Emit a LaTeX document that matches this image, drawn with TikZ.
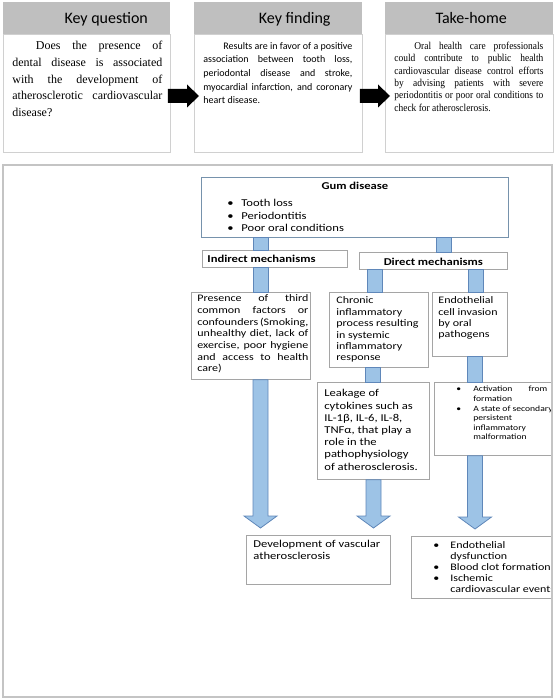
\documentclass[tikz,border=0pt]{standalone}
\usepackage{fontspec}
\setmainfont{Carlito}
\newfontfamily\calw{Carlito}[FakeStretch=1.2]
\newfontfamily\tnr{Liberation Serif}
\newfontfamily\tnrn{Liberation Serif}[FakeStretch=0.9]
\usepackage{tikz}
\usetikzlibrary{calc}
\definecolor{headgray}{RGB}{191,191,191}
\definecolor{panelgray}{RGB}{208,208,208}
\definecolor{boxgray}{RGB}{165,165,165}
\definecolor{gumline}{RGB}{118,146,172}
\definecolor{barblue}{RGB}{157,195,230}
\definecolor{barline}{RGB}{95,135,185}
\definecolor{framegray}{RGB}{196,196,196}
\newcommand{\jl}[1]{\makebox[\linewidth][s]{#1}\\}
\newcommand{\bul}{\makebox[17pt][l]{\textbullet}}
\newcommand{\boxtext}[6]{\parbox[t][#2][t]{#1}{\rule{0pt}{#3}\hspace*{#4}\parbox[t]{#5}{#6}}}

\begin{document}
\begin{tikzpicture}[x=1pt,y=-1pt,
    head/.style={fill=headgray,inner sep=0,anchor=north west,minimum width=168pt,
        text height=21pt,text depth=11pt,font=\fontsize{16}{19}\selectfont},
    pbody/.style={draw=panelgray,line width=0.8pt,fill=white,inner sep=0,anchor=north west},
    box/.style={draw=boxgray,line width=0.8pt,fill=white,inner sep=0,anchor=north west},
    bar/.style={fill=barblue,draw=barline,line width=0.8pt}]
\useasboundingbox (0,0) rectangle (556,700);

\node[head,minimum width=167pt] (qhead) at (3,2) {\hspace*{39pt}Key question};
\node[head] (fhead) at (194,2) {\hspace*{33pt}Key finding};
\node[head] (thead) at (385,2) {\hspace*{4pt}Take-home};

\node[pbody,font=\tnr\fontsize{12}{16.7}\selectfont] (qbody) at (3,34)
    {\boxtext{167pt}{118pt}{15.5pt}{9pt}{150pt}{%
    \jl{\hspace*{23.5pt}Does the presence of}
    \jl{dental disease is associated}
    \jl{with the development of}
    \jl{atherosclerotic cardiovascular}
    disease?}};
\node[pbody,font=\fontsize{10}{13.6}\selectfont] (fbody) at (194,34)
    {\boxtext{168pt}{118pt}{15pt}{9pt}{149pt}{%
    \jl{\hspace*{20pt}Results are in favor of a positive}
    \jl{association between tooth loss,}
    \jl{periodontal disease and stroke,}
    \jl{myocardial infarction, and coronary}
    heart disease.}};
\node[pbody,font=\tnrn\fontsize{10.5}{12.4}\selectfont] (tbody) at (385,34)
    {\boxtext{168pt}{118pt}{15pt}{9pt}{149pt}{%
    \jl{\hspace*{20pt}Oral health care professionals}
    \jl{could contribute to public health}
    \jl{cardiovascular disease control efforts}
    \jl{by advising patients with severe}
    \jl{periodontitis or poor oral conditions to}
    check for atherosclerosis.}};

\foreach \a/\b in {qbody/fbody, fbody/tbody}
    {\fill let \p1=(\a.east), \p2=(\b.west) in
        (\x1-3pt,\y1+4.4pt) -- (\x2-7pt,\y1+4.4pt) -- (\x2-7pt,\y1+8.9pt) -- (\x2+5pt,\y1-2.6pt)
        -- (\x2-7pt,\y1-14.1pt) -- (\x2-7pt,\y1-9.6pt) -- (\x1-3pt,\y1-9.6pt) -- cycle;}

\begin{scope}
\clip (0,160) rectangle (552,700);
\node[box,draw=gumline,font=\calw\fontsize{10.5}{12.8}\selectfont] (gum) at (201,177)
    {\boxtext{307pt}{60pt}{12pt}{0pt}{307pt}{%
    \makebox[\linewidth]{\bfseries Gum disease}\\[4.2pt]
    \hspace*{26pt}\makebox[14pt][l]{\textbullet}Tooth loss\\
    \hspace*{26pt}\makebox[14pt][l]{\textbullet}Periodontitis\\
    \hspace*{26pt}\makebox[14pt][l]{\textbullet}Poor oral conditions}};
\node[box,font=\calw\fontsize{10.5}{12.8}\selectfont] (ind) at (202,250)
    {\boxtext{145pt}{17pt}{12pt}{5pt}{135pt}{\bfseries Indirect mechanisms}};
\node[box,font=\calw\fontsize{10.5}{12.8}\selectfont] (dir) at (359,252)
    {\boxtext{148pt}{17pt}{12.7pt}{0pt}{148pt}{\centering\bfseries Direct mechanisms}};
\node[box,font=\calw\fontsize{10}{11.67}\selectfont] (pres) at (191,292)
    {\boxtext{119pt}{87pt}{9.5pt}{6pt}{111pt}{%
    \jl{Presence of third}
    \jl{common factors or}
    \jl{confounders (Smoking,}
    \jl{unhealthy diet, lack of}
    \jl{exercise, poor hygiene}
    \jl{and access to health}
    care)}};
\node[box,font=\calw\fontsize{10}{11.4}\selectfont] (chron) at (329,292)
    {\boxtext{99pt}{75pt}{11.5pt}{7pt}{90pt}{%
    Chronic\\ inflammatory\\ process resulting\\ in systemic\\ inflammatory\\ response}};
\node[box,font=\calw\fontsize{10}{11.3}\selectfont] (endo) at (432,292)
    {\boxtext{75pt}{64pt}{11.5pt}{6pt}{68pt}{%
    Endothelial\\ cell invasion\\ by oral\\ pathogens}};
\node[box,font=\calw\fontsize{10.5}{12.2}\selectfont] (leak) at (317,382)
    {\boxtext{112pt}{97pt}{14.5pt}{7pt}{103pt}{%
    Leakage of\\ cytokines such as\\ IL-1β, IL-6, IL-8,\\ TNFα, that play a\\
    role in the\\ pathophysiology\\ of atherosclerosis.}};
\node[box,font=\calw\fontsize{8}{9.6}\selectfont] (activ) at (434,382)
    {\boxtext{130pt}{73pt}{9.5pt}{22pt}{108pt}{%
    \bul\makebox[74pt][s]{Activation from}\\
    \hspace*{17pt}formation\\
    \bul A state of secondary\\
    \hspace*{17pt}persistent\\
    \hspace*{17pt}inflammatory\\
    \hspace*{17pt}malformation}};
\node[box,font=\calw\fontsize{10.5}{12}\selectfont] (dev) at (246,535)
    {\boxtext{144pt}{49pt}{12.5pt}{7pt}{130pt}{%
    Development of vascular\\ atherosclerosis}};
\node[box,font=\calw\fontsize{10}{11}\selectfont] (bul) at (411,536)
    {\boxtext{150pt}{62pt}{12.5pt}{22pt}{128pt}{%
    \bul Endothelial\\
    \hspace*{17pt}dysfunction\\
    \bul Blood clot formation\\
    \bul Ischemic\\
    \hspace*{17pt}cardiovascular events}};

\foreach \a/\b/\cx in {gum/ind/260.5, ind/pres/260.5, gum/dir/444, dir/chron/374.5,
        dir/endo/475.5, chron/leak/372.5, endo/activ/475}
    {\draw[bar] ({\cx-7.5},0 |- \a.south) rectangle ({\cx+7.5},0 |- \b.north);}

\foreach \a/\b/\cx in {pres/dev/260.5, leak/dev/373.5, activ/bul/475}
    {\draw[bar] let \p1=(\a.south), \p2=(\b.north) in
        ({\cx-7.5},\y1) -- ({\cx+7.5},\y1) -- ({\cx+7.5},\y2+19pt) -- ({\cx+16.5},\y2+19pt)
        -- (\cx,\y2+7pt) -- ({\cx-16.5},\y2+19pt) -- ({\cx-7.5},\y2+19pt) -- cycle;}
\end{scope}

\draw[framegray,line width=1.2pt] (3,165) rectangle (552,697);
\end{tikzpicture}
\end{document}
